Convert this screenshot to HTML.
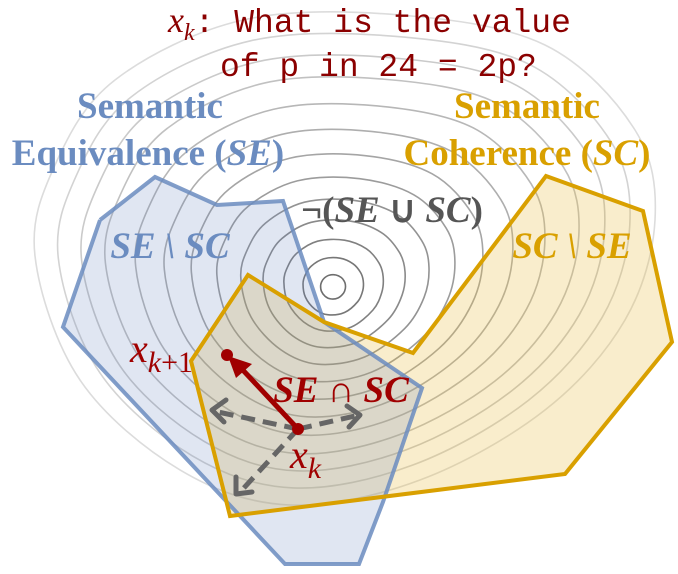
<!DOCTYPE html>
<html><head><meta charset="utf-8"><style>
html,body{margin:0;padding:0;background:#fff;width:678px;height:574px;overflow:hidden}
svg{display:block}
.t{font-family:"Liberation Mono",monospace;fill:#8b0000;font-size:33px}
.s{font-family:"Liberation Serif",serif;font-weight:bold;font-size:37px}
</style></head><body>
<svg id="sv" width="678" height="574" viewBox="0 0 678 574" xmlns="http://www.w3.org/2000/svg">
<g id="cont" fill="none" stroke-width="1.6"></g>
<polygon points="248,275 324,322 413,353 546,176 643,211 672,342 565,474 230,516 191,361" fill="rgba(232,184,50,0.25)"/>
<polygon points="100,220 155,177 217,205 283,201 324,322 422,388 383,502 359,564 285,564 63,327" fill="rgba(100,130,190,0.2)"/>
<polyline points="100,220 155,177 217,205 283,201 324,322 422,388 383,502 359,564 285,564 63,327 100,220" fill="none" stroke="#6b8cc0" stroke-width="4" stroke-opacity="0.85"/>
<polygon points="248,275 324,322 413,353 546,176 643,211 672,342 565,474 230,516 191,361" fill="none" stroke="#d9a000" stroke-width="4"/>
<g stroke="#666" stroke-width="5" stroke-dasharray="14,8" fill="none">
<line x1="298" y1="429" x2="218" y2="412"/>
<line x1="298" y1="429" x2="355" y2="416"/>
<line x1="298" y1="429" x2="242" y2="490"/>
</g>
<g stroke="#666" stroke-width="5" fill="none" stroke-linecap="round" stroke-linejoin="round">
<polyline points="226,400 212,410 224,422"/>
<polyline points="347,406 360,415 349,427"/>
<polyline points="236,477 236,494 252,492"/>
</g>
<line x1="298" y1="429" x2="240" y2="367" stroke="#a00000" stroke-width="5"/>
<polygon points="228,356 252,364 236,378" fill="#a00000"/>
<circle cx="298" cy="429" r="6" fill="#a00000"/>
<circle cx="227" cy="355" r="6" fill="#a00000"/>
<text class="t" x="168" y="32"><tspan font-family="Liberation Serif" font-style="italic" font-size="36">x</tspan><tspan font-family="Liberation Serif" font-style="italic" font-size="24" dy="8">k</tspan><tspan dy="-8">: What is the value</tspan></text>
<text class="t" x="220" y="76">of p in 24 = 2p?</text>
<text class="s" fill="#6b8cc0" x="150" y="118" text-anchor="middle">Semantic</text>
<text class="s" fill="#6b8cc0" x="148" y="165" text-anchor="middle">Equivalence (<tspan font-style="italic">SE</tspan>)</text>
<text class="s" fill="#d9a000" x="527" y="118" text-anchor="middle">Semantic</text>
<text class="s" fill="#d9a000" x="527" y="165" text-anchor="middle">Coherence (<tspan font-style="italic">SC</tspan>)</text>
<text class="s" fill="#6b8cc0" x="170" y="258" text-anchor="middle" font-style="italic" font-size="36">SE \ SC</text>
<text class="s" fill="#d9a000" x="572" y="258" text-anchor="middle" font-style="italic" font-size="36">SC \ SE</text>
<text class="s" fill="#555" x="392" y="222" text-anchor="middle" font-size="36">¬(<tspan font-style="italic">SE</tspan> ∪ <tspan font-style="italic">SC</tspan>)</text>
<text class="s" fill="#a00000" x="341" y="402" text-anchor="middle" font-style="italic" font-size="35">SE ∩ SC</text>
<text fill="#a00000" font-family="Liberation Serif" font-style="italic" font-size="40" x="130" y="362">x<tspan font-size="30" dy="10" font-style="normal"><tspan font-style="italic">k</tspan>+1</tspan></text>
<text fill="#a00000" font-family="Liberation Serif" font-style="italic" font-size="40" x="290" y="468">x<tspan font-size="30" dy="10">k</tspan></text>
</svg>
<script>
(function(){
var c=[333,287];
var P=[[35,256],[55,165],[115,80],[243,20],[400,15],[545,45],[635,130],[655,220],[625,320],[545,410],[420,480],[290,505],[180,470],[80,380]];
var g=document.getElementById('cont');
var N=13;
for(var i=0;i<N;i++){
 var k=0.06+0.94*i/(N-1);
 var pts=[];
 for(var j=0;j<P.length;j++){
  var dx=P[j][0]-c[0],dy=P[j][1]-c[1];
  var a=Math.atan2(dy,dx);
  var cx=Math.cos(a)*200,cy=Math.sin(a)*200;
  var b=Math.min(1,k*1.3);
  var sx=cx*(1-b)+dx*b, sy=cy*(1-b)+dy*b;
  pts.push([c[0]+k*sx,c[1]+k*sy]);
 }
 var n=pts.length,d='';
 for(var j=0;j<n;j++){
  var p0=pts[(j-1+n)%n],p1=pts[j],p2=pts[(j+1)%n],p3=pts[(j+2)%n];
  if(j==0)d+='M'+p1[0]+','+p1[1];
  d+=' C'+(p1[0]+(p2[0]-p0[0])/6)+','+(p1[1]+(p2[1]-p0[1])/6)+' '+(p2[0]-(p3[0]-p1[0])/6)+','+(p2[1]-(p3[1]-p1[1])/6)+' '+p2[0]+','+p2[1];
 }
 var e=document.createElementNS('http://www.w3.org/2000/svg','path');
 e.setAttribute('d',d+'Z');
 var gr=Math.round(110+110*i/(N-1));
 e.setAttribute('stroke','rgb('+gr+','+gr+','+gr+')');
 g.appendChild(e);
}
})();
</script>
</body></html>
